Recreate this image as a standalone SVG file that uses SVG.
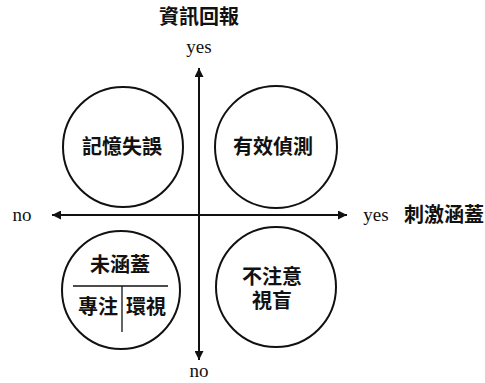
<svg xmlns="http://www.w3.org/2000/svg" width="485" height="383" viewBox="0 0 485 383">
<style>
.c{fill:none;stroke:#111;stroke-width:2}
.ax{stroke:#111;stroke-width:2;fill:none}
.ln{stroke:#111;stroke-width:1.3;fill:none}
.cjk{font-family:"Liberation Serif","Noto Sans CJK TC",serif;font-weight:bold;font-size:20px;fill:#111;text-anchor:middle}
.lat{font-family:"Liberation Serif",serif;font-size:19px;fill:#111;text-anchor:middle}
</style>
<defs>
<marker id="ah" viewBox="0 0 10 10" refX="10" refY="5" markerWidth="16" markerHeight="9" markerUnits="userSpaceOnUse" orient="auto">
<path d="M0,0 L10,5 L0,10 Z" fill="#111"/>
</marker>
</defs>
<rect width="485" height="383" fill="#fff"/>
<g id="connectors">
<line class="ax" x1="199" y1="215" x2="199" y2="68" marker-end="url(#ah)"/>
<line class="ax" x1="199" y1="215" x2="199" y2="360" marker-end="url(#ah)"/>
<line class="ax" x1="199" y1="215" x2="52" y2="215" marker-end="url(#ah)"/>
<line class="ax" x1="199" y1="215" x2="347" y2="215" marker-end="url(#ah)"/>
</g>
<g id="labels">
<text class="cjk" x="199" y="24">資訊回報</text>
<text class="lat" x="199" y="53">yes</text>
<text class="lat" x="22" y="221">no</text>
<text class="lat" x="376" y="221">yes</text>
<text class="cjk" x="444" y="222">刺激涵蓋</text>
<text class="lat" x="199" y="377">no</text>
</g>
<g id="memory-error">
<circle class="c" cx="123" cy="147" r="60"/>
<text class="cjk" x="122" y="154">記憶失誤</text>
</g>
<g id="effective-detection">
<circle class="c" cx="276" cy="147" r="61"/>
<text class="cjk" x="273" y="154">有效偵測</text>
</g>
<g id="not-covered">
<circle class="c" cx="121" cy="290" r="59"/>
<text class="cjk" x="120" y="272">未涵蓋</text>
<line class="ln" x1="73" y1="286" x2="168" y2="286"/>
<line class="ln" x1="122" y1="286" x2="122" y2="332"/>
<text class="cjk" x="98" y="314">專注</text>
<text class="cjk" x="146" y="314">環視</text>
</g>
<g id="inattentional-blindness">
<circle class="c" cx="276" cy="287" r="60"/>
<text class="cjk" x="272" y="284">不注意</text>
<text class="cjk" x="272" y="308">視盲</text>
</g>
</svg>
